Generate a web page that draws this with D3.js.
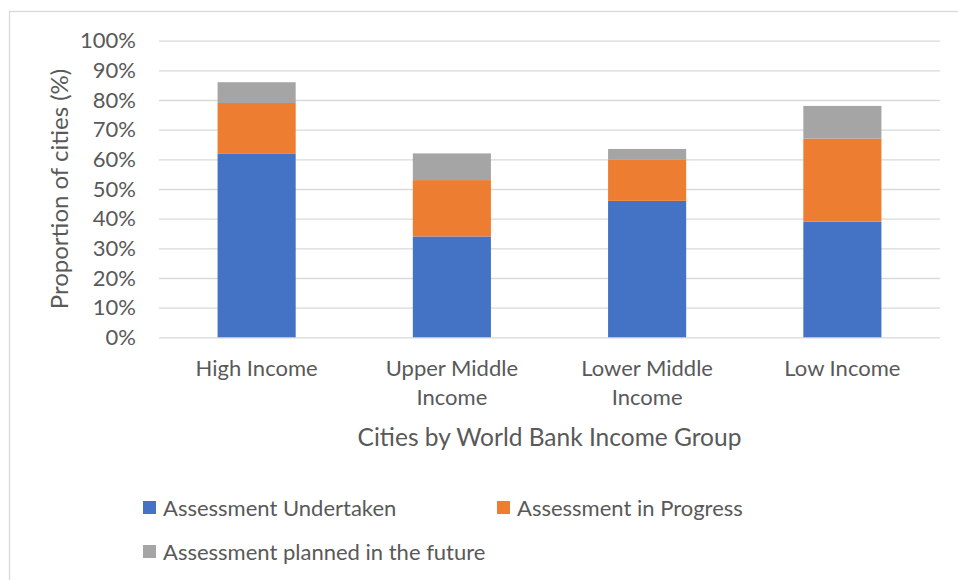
<!DOCTYPE html>
<html>
<head>
<meta charset="utf-8">
<script src="https://cdn.jsdelivr.net/npm/d3@7"></script>
<style>
  body { margin: 0; background: #fff; }
  text { font-family: Lato, "Open Sans", sans-serif; fill: #595959; }
</style>
</head>
<body>
<svg id="chart" width="958" height="580"></svg>
<script>
// income groups on the x axis
var categories = ["High Income", "Upper Middle Income", "Lower Middle Income", "Low Income"];

// proportion of cities (%) in each group, one array per series
var undertaken = [62, 34, 46, 39];
var inProgress = [17, 19, 14, 28];
var planned    = [7, 9, 3.5, 11];

var seriesNames = ["Assessment Undertaken", "Assessment in Progress", "Assessment planned in the future"];
var yTicks = [0, 10, 20, 30, 40, 50, 60, 70, 80, 90, 100];

(function () {
  var svg = d3.select("#chart");
  var margin = {top: 40.7, right: 18, bottom: 242.7, left: 159};
  var width = +svg.attr("width") - margin.left - margin.right;
  var height = +svg.attr("height") - margin.top - margin.bottom;
  var colors = ["#4472C4", "#ED7D31", "#A5A5A5"];

  // chart area border (runs off the right and bottom edges)
  svg.append("rect")
    .attr("x", 9.5).attr("y", 11.5)
    .attr("width", 960).attr("height", 600)
    .attr("fill", "none")
    .attr("stroke", "#d9d9d9")
    .attr("stroke-width", 1.3);

  var g = svg.append("g")
    .attr("transform", "translate(" + margin.left + "," + margin.top + ")");

  var x = d3.scaleBand().domain(categories).range([0, width]).padding(0);
  var y = d3.scaleLinear().domain([0, 100]).range([height, 0]);

  // stack the three series
  var rows = categories.map(function (c, i) {
    return {cat: c, s0: undertaken[i], s1: inProgress[i], s2: planned[i]};
  });
  var stacked = d3.stack().keys(["s0", "s1", "s2"])(rows);

  // gridlines
  g.append("g")
    .attr("class", "grid")
    .call(d3.axisLeft(y).tickValues(yTicks).tickSize(-width).tickFormat(""))
    .call(function (a) {
      a.select(".domain").remove();
      a.selectAll("line").attr("stroke", "#d9d9d9").attr("stroke-width", 1.3);
    });

  // y tick labels
  g.append("g")
    .call(d3.axisLeft(y).tickValues(yTicks).tickSize(0).tickPadding(23)
      .tickFormat(function (d) { return d + "%"; }))
    .call(function (a) {
      a.select(".domain").remove();
      a.selectAll("text").style("font-size", "22px").attr("fill", "#595959")
        .style("font-family", "Lato");
    });

  // bars
  var barW = x.bandwidth() * 0.4;
  g.selectAll(".series")
    .data(stacked)
    .enter().append("g")
    .attr("fill", function (d, i) { return colors[i]; })
    .selectAll("rect")
    .data(function (d) { return d; })
    .enter().append("rect")
    .attr("x", function (d) { return x(d.data.cat) + (x.bandwidth() - barW) / 2; })
    .attr("y", function (d) { return y(d[1]); })
    .attr("width", barW)
    .attr("height", function (d) { return y(d[0]) - y(d[1]); });

  // category labels
  g.append("g")
    .attr("transform", "translate(0," + height + ")")
    .call(d3.axisBottom(x).tickSize(0).tickPadding(23))
    .call(function (a) {
      a.select(".domain").remove();
      a.selectAll("text").style("font-size", "22px").attr("fill", "#595959")
        .style("font-family", "Lato")
        .call(wrap, 150);
    });

  // axis titles
  g.append("text")
    .attr("transform", "rotate(-90)")
    .attr("x", -height / 2)
    .attr("y", -99)
    .attr("dy", "0.35em")
    .attr("text-anchor", "middle")
    .style("font-size", "24px")
    .text("Proportion of cities (%)");

  g.append("text")
    .attr("x", width / 2)
    .attr("y", height + 100)
    .attr("dy", "0.35em")
    .attr("text-anchor", "middle")
    .style("font-size", "24.5px")
    .text("Cities by World Bank Income Group");

  // legend
  var legendPos = [[143, 508], [497, 508], [143, 552]];
  var legend = svg.selectAll(".legend")
    .data(seriesNames)
    .enter().append("g")
    .attr("transform", function (d, i) { return "translate(" + legendPos[i][0] + "," + legendPos[i][1] + ")"; });

  legend.append("rect")
    .attr("x", 0).attr("y", -7)
    .attr("width", 13).attr("height", 13)
    .attr("fill", function (d, i) { return colors[i]; });

  legend.append("text")
    .attr("x", 20)
    .attr("dy", "0.35em")
    .style("font-size", "22px")
    .text(function (d) { return d; });

  // break long category labels over lines
  function wrap(text, maxW) {
    text.each(function () {
      var t = d3.select(this);
      var words = t.text().split(/\s+/);
      var y0 = t.attr("y");
      var dy = parseFloat(t.attr("dy"));
      var line = [];
      var lineNo = 0;
      var tspan = t.text(null).append("tspan").attr("x", 0).attr("y", y0).attr("dy", dy + "em");
      words.forEach(function (w) {
        line.push(w);
        tspan.text(line.join(" "));
        if (tspan.node().getComputedTextLength() > maxW && line.length > 1) {
          line.pop();
          tspan.text(line.join(" "));
          line = [w];
          lineNo++;
          tspan = t.append("tspan").attr("x", 0).attr("y", y0)
            .attr("dy", (lineNo * 1.3 + dy) + "em").text(w);
        }
      });
    });
  }
}());
</script>
</body>
</html>
